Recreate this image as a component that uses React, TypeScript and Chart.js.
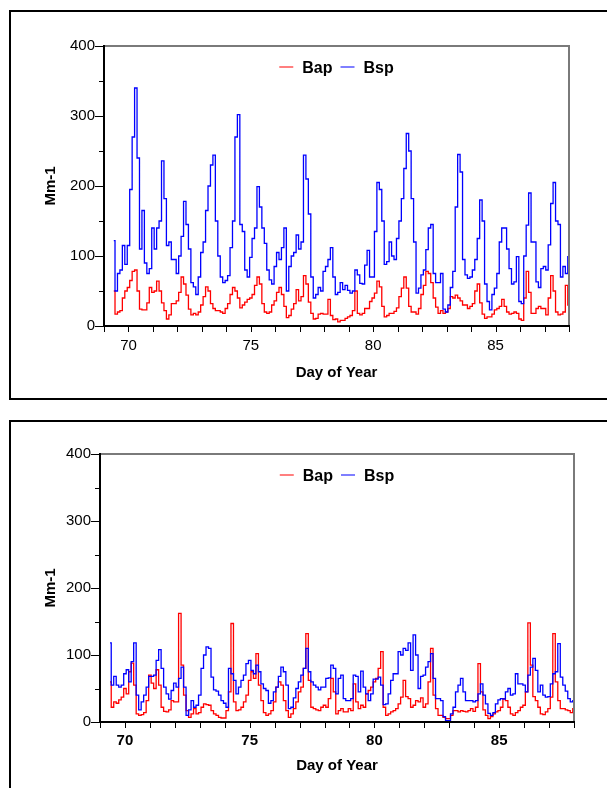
import React, { useEffect, useRef } from 'react';
import { Chart, registerables } from 'chart.js';

Chart.register(...registerables);

// ---------- data ----------
const DAY_START = 69.4;
const DAY_STEP = 0.1;
const X_MIN = 69;
const X_MAX = 88;
const X_TICKS = [70, 75, 80, 85];
const X_MINOR_TICKS = [69, 70, 71, 72, 73, 74, 75, 76, 77, 78, 79, 80, 81, 82, 83, 84, 85, 86, 87, 88];
const Y_TICKS = [0, 100, 200, 300, 400];
const Y_MINOR_TICKS = [0, 50, 100, 150, 200, 250, 300, 350, 400];
const SERIES_LABELS = ['Bap', 'Bsp'];

// Top panel
const BAP_TOP = [
  50, 17, 20, 22, 40, 50, 55, 65, 78, 80,
  50, 24, 23, 23, 33, 55, 48, 50, 64, 50,
  33, 22, 10, 16, 32, 32, 36, 48, 70, 60,
  44, 24, 16, 18, 16, 20, 30, 42, 56, 50,
  32, 25, 22, 22, 20, 18, 25, 32, 45, 55,
  50, 40, 26, 30, 34, 38, 40, 45, 58, 70,
  60, 32, 20, 18, 20, 30, 36, 48, 55, 45,
  28, 12, 15, 24, 32, 52, 36, 42, 72, 60,
  34, 18, 10, 11, 17, 18, 17, 17, 38, 15,
  9, 10, 6,
  8, 8, 11, 13, 15, 22, 50, 18, 16, 18,
  25, 25, 35, 40, 47, 64, 56, 28, 13, 15,
  18, 18, 21, 26, 42, 54, 70, 54, 28, 20,
  20, 17, 25, 45, 58, 78, 75, 62, 40, 27,
  18, 22, 18, 20, 25, 42, 40, 44, 40, 36,
  30, 30, 25, 28, 32, 50, 60, 33, 17, 11,
  13, 13, 17, 23, 25, 28, 38, 28, 20, 17,
  18, 20, 18, 10, 8, 40, 78, 48, 18, 18,
  25, 28, 25, 25, 16, 40, 72, 50, 20, 16,
  17, 20, 58, 30,
];
const BSP_TOP = [
  122, 50, 75, 80, 115, 88, 115, 195, 270, 340,
  240, 110, 165, 90, 75, 82, 140, 110, 140, 150,
  236, 182, 115, 120, 95, 95, 75, 100, 128, 178,
  145, 110, 62, 56, 45, 70, 105, 120, 165, 200,
  230, 244, 150, 100, 70, 62, 65, 72, 112, 150,
  270, 302, 145, 135, 80, 70, 98, 125, 140, 199,
  170, 140, 118, 80, 66, 60, 85, 105, 95, 112,
  140, 50, 85, 100, 105, 130, 110, 120, 244, 210,
  160, 70, 40, 45, 55, 50, 78, 85, 95, 112,
  70, 45, 48,
  62, 52, 58, 51, 47, 50, 80, 73, 61, 60,
  87, 108, 70, 70, 135, 205, 195, 150, 88, 92,
  120, 100, 95, 125, 150, 182, 225, 275, 250, 182,
  120, 47, 54, 73, 80, 109, 140, 145, 75, 62,
  62, 75, 24, 20, 30, 55, 78, 170, 245, 220,
  95, 73, 68, 70, 80, 95, 125, 180, 150, 60,
  35, 23, 45, 54, 75, 120, 140, 140, 110, 82,
  60, 63, 99, 35, 32, 100, 144, 190, 120, 120,
  63, 55, 82, 85, 80, 116, 175, 205, 150, 145,
  70, 85, 75, 99,
];

// Bottom panel
const BAP_BOTTOM = [
  60, 22, 30, 28, 33, 37, 50, 42, 75, 88,
  55, 12, 10, 11, 14, 32, 70, 58, 50, 78,
  55, 22, 16, 15, 18, 32, 30, 30, 162, 85,
  40, 17, 7, 12, 20, 12, 14, 22, 27, 26,
  25, 17, 12, 10, 7, 6, 6, 17, 45, 147,
  30, 17, 18, 22, 30, 40, 62, 75, 65, 102,
  55, 32, 14, 10, 12, 17, 30, 52, 60, 55,
  32, 17, 7, 12, 20, 30, 45, 52, 80, 132,
  62, 22, 20, 18, 17, 22, 25, 22, 35, 65,
  45, 12, 17,
  20, 15, 15, 20, 17, 57, 30, 20, 25, 22,
  42, 47, 52, 60, 65, 80, 105, 22, 10, 12,
  15, 17, 20, 27, 37, 62, 38, 35, 22, 25,
  32, 30, 36, 22, 27, 60, 110, 40, 20, 10,
  10, 7, 5, 5, 10, 17, 17, 15, 17, 16,
  15, 17, 20, 16, 22, 87, 45, 18, 10, 5,
  8, 12, 15, 17, 22, 35, 32, 22, 12, 10,
  14, 17, 22, 25, 45, 148, 85, 38, 32, 22,
  12, 11, 15, 20, 37, 132, 60, 32, 20, 20,
  18, 17, 14, 20,
];
const BSP_BOTTOM = [
  118, 55, 68, 55, 52, 55, 72, 78, 60, 90,
  118, 40, 18, 30, 40, 52, 68, 68, 70, 92,
  108, 80, 52, 42, 34, 47, 58, 52, 65, 82,
  52, 10, 18, 32, 22, 25, 40, 80, 100, 112,
  110, 67, 48, 46, 40, 32, 28, 22, 80, 72,
  62, 42, 52, 62, 70, 87, 92, 77, 72, 85,
  75, 57, 50, 47, 28, 32, 45, 52, 68, 82,
  75, 55, 20, 22, 36, 50, 60, 70, 80, 110,
  75, 60, 55, 52, 48, 52, 52, 65, 66, 85,
  80, 42, 65,
  70, 35, 32, 32, 35, 70, 68, 45, 76, 52,
  42, 32, 42, 64, 64, 67, 55, 26, 27, 42,
  62, 72, 72, 105, 100, 110, 107, 118, 77, 130,
  100, 50, 68, 70, 82, 90, 102, 65, 35, 35,
  32, 8, 2, 2, 12, 22, 45, 55, 65, 45,
  32, 32, 32, 30, 32, 42, 57, 40, 27, 13,
  10, 14, 27, 33, 35, 34, 45, 50, 40, 42,
  72, 57, 57, 55, 45, 70, 82, 95, 77, 45,
  55, 40, 37, 38, 57, 72, 75, 117, 67, 55,
  46, 35, 30, 32,
];

// ---------- style ----------
const FONT = '"Liberation Sans", Arial, Helvetica, sans-serif';
const RED = '#ff0000';
const BLUE = '#0000ff';
const RED_LEGEND = 'rgba(255,0,0,0.5)';
const BLUE_LEGEND = 'rgba(0,0,255,0.5)';

const toPoints = (vals: number[]) =>
  vals.map((v, i) => ({ x: +(DAY_START + i * DAY_STEP).toFixed(2), y: v }));

const decorPlugin = {
  id: 'panelDecor',
  afterDatasetsDraw(chart: any) {
    const { ctx, chartArea: a, scales } = chart;
    const xs = scales.x;
    const ys = scales.y;
    ctx.save();
    // frame (top & right, gray)
    ctx.strokeStyle = '#7a7a7a';
    ctx.lineWidth = 2;
    ctx.beginPath();
    ctx.moveTo(a.left, a.top);
    ctx.lineTo(a.right, a.top);
    ctx.lineTo(a.right, a.bottom);
    ctx.stroke();
    // axes (left & bottom, black)
    ctx.strokeStyle = '#000';
    ctx.lineWidth = 2;
    ctx.beginPath();
    ctx.moveTo(a.left, a.top - 1);
    ctx.lineTo(a.left, a.bottom);
    ctx.lineTo(a.right + 1, a.bottom);
    ctx.stroke();
    // y ticks
    ctx.lineWidth = 1;
    ctx.strokeStyle = '#000';
    for (const v of Y_MINOR_TICKS) {
      const py = Math.round(ys.getPixelForValue(v)) + 0.5;
      const len = v % 100 === 0 ? 9 : 5;
      ctx.beginPath();
      ctx.moveTo(a.left - len, py);
      ctx.lineTo(a.left, py);
      ctx.stroke();
    }
    // x ticks
    for (const d of X_MINOR_TICKS) {
      const px = Math.round(xs.getPixelForValue(d)) + 0.5;
      ctx.beginPath();
      ctx.moveTo(px, a.bottom);
      ctx.lineTo(px, a.bottom + 6);
      ctx.stroke();
    }
    // legend
    ctx.font = `bold 16px ${FONT}`;
    ctx.textBaseline = 'middle';
    ctx.textAlign = 'left';
    const lineLen = 14;
    const gapLT = 9;
    const gapItems = 8;
    const colors = [RED_LEGEND, BLUE_LEGEND];
    const widths = SERIES_LABELS.map((t) => ctx.measureText(t).width);
    const total = widths.reduce((s, w) => s + w + lineLen + gapLT, 0) + gapItems * (SERIES_LABELS.length - 1);
    let cx = (a.left + a.right) / 2 - total / 2;
    const cy = a.top + 22;
    SERIES_LABELS.forEach((t, i) => {
      ctx.strokeStyle = colors[i];
      ctx.lineWidth = 2;
      ctx.beginPath();
      ctx.moveTo(cx, cy - 1);
      ctx.lineTo(cx + lineLen, cy - 1);
      ctx.stroke();
      cx += lineLen + gapLT;
      ctx.fillStyle = '#000';
      ctx.fillText(t, cx, cy + 1);
      cx += widths[i] + gapItems;
    });
    ctx.restore();
  },
};

type PanelProps = {
  bap: number[];
  bsp: number[];
  left: number;
  top: number;
  width: number;
  height: number;
  padTop: number;
  padRight: number;
  yAxisWidth: number;
  xAxisHeight: number;
  xTickPad: number;
  xTitlePad: number;
  xTickBold: boolean;
};

function Panel(p: PanelProps) {
  const ref = useRef<HTMLCanvasElement | null>(null);
  useEffect(() => {
    if (!ref.current) return;
    const chart = new Chart(ref.current, {
      type: 'line',
      data: {
        datasets: [
          {
            label: SERIES_LABELS[0],
            data: toPoints(p.bap),
            borderColor: RED,
            borderWidth: 1.3,
            pointRadius: 0,
            stepped: 'middle',
            fill: false,
            order: 1,
          },
          {
            label: SERIES_LABELS[1],
            data: toPoints(p.bsp),
            borderColor: BLUE,
            borderWidth: 1.3,
            pointRadius: 0,
            stepped: 'middle',
            fill: false,
            order: 0,
          },
        ],
      },
      options: {
        responsive: false,
        animation: false,
        events: [],
        layout: { padding: { top: p.padTop, right: p.padRight, left: 0, bottom: 0 } },
        plugins: {
          legend: { display: false },
          tooltip: { enabled: false },
          title: { display: false },
        },
        scales: {
          x: {
            type: 'linear',
            min: X_MIN,
            max: X_MAX,
            afterBuildTicks: (s: any) => {
              s.ticks = X_TICKS.map((v) => ({ value: v }));
            },
            afterFit: (s: any) => {
              s.height = p.xAxisHeight;
            },
            grid: { display: false, drawTicks: true, tickLength: 5 },
            border: { display: false },
            ticks: {
              padding: p.xTickPad,
              autoSkip: false,
              maxRotation: 0,
              color: '#000',
              font: { family: FONT, size: 15, weight: p.xTickBold ? 'bold' : 'normal' },
            },
            title: {
              display: true,
              text: 'Day of Year',
              color: '#000',
              font: { family: FONT, size: 15, weight: 'bold' },
              padding: { top: 0, bottom: p.xTitlePad },
            },
          },
          y: {
            type: 'linear',
            min: 0,
            max: 400,
            afterBuildTicks: (s: any) => {
              s.ticks = Y_TICKS.map((v) => ({ value: v }));
            },
            afterFit: (s: any) => {
              s.width = p.yAxisWidth;
            },
            grid: { display: false, drawTicks: true, tickLength: 9 },
            border: { display: false },
            ticks: {
              padding: 0,
              color: '#000',
              font: { family: FONT, size: 15 },
            },
            title: {
              display: true,
              text: 'Mm-1',
              color: '#000',
              font: { family: FONT, size: 15, weight: 'bold' },
              padding: { top: 31, bottom: 0 },
            },
          },
        },
      },
      plugins: [decorPlugin],
    } as any);
    return () => chart.destroy();
  }, []);
  return (
    <canvas
      ref={ref}
      width={p.width}
      height={p.height}
      style={{ position: 'absolute', left: p.left, top: p.top, width: p.width, height: p.height }}
    />
  );
}

export default function App() {
  return (
    <div
      style={{
        position: 'absolute',
        left: 0,
        top: 0,
        width: 607,
        height: 788,
        overflow: 'hidden',
        background: '#fff',
      }}
    >
      <div
        style={{
          position: 'absolute',
          left: 9,
          top: 10,
          width: 640,
          height: 390,
          border: '2px solid #000',
          boxSizing: 'border-box',
        }}
      />
      <div
        style={{
          position: 'absolute',
          left: 9,
          top: 420,
          width: 640,
          height: 420,
          border: '2px solid #000',
          boxSizing: 'border-box',
        }}
      />
      <Panel
        bap={BAP_TOP}
        bsp={BSP_TOP}
        left={11}
        top={12}
        width={596}
        height={386}
        padTop={34}
        padRight={38}
        yAxisWidth={93}
        xAxisHeight={72}
        xTickPad={6}
        xTitlePad={16}
        xTickBold={false}
      />
      <Panel
        bap={BAP_BOTTOM}
        bsp={BSP_BOTTOM}
        left={11}
        top={422}
        width={596}
        height={366}
        padTop={32}
        padRight={33}
        yAxisWidth={89}
        xAxisHeight={66}
        xTickPad={5}
        xTitlePad={13}
        xTickBold={true}
      />
    </div>
  );
}
